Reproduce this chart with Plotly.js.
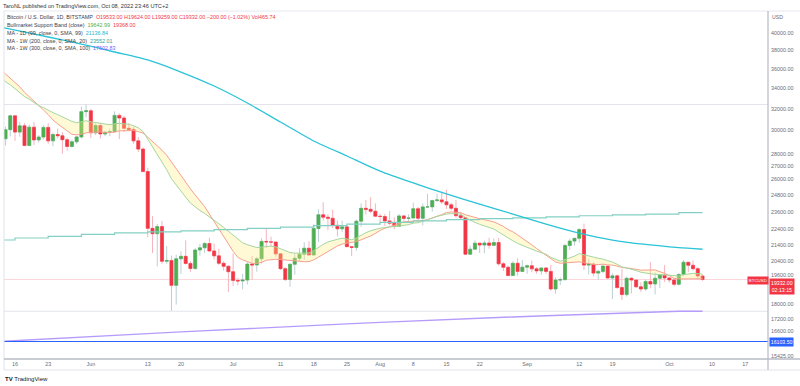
<!DOCTYPE html>
<html><head><meta charset="utf-8">
<script src="https://cdn.plot.ly/plotly-3.0.1.min.js"></script>
<style>html,body{margin:0;padding:0;background:#fff;}#chart{width:800px;height:386px;}</style>
</head><body><div id="chart"></div>
<script>
// ---------- DATA ----------
// daily bars BTC/USD Bitstamp, 2022-05-14 .. 2022-10-08
const barStart = '2022-05-14';
const open = [
 29280,30080,31330,29860,30420,28700,30300,29180,29430,30280,29100,29650,29540,29200,28620,29020,29440,31720,
 31800,29800,30450,29700,29860,29900,31370,31130,30200,30100,29100,28400,26580,22480,22130,22600,20400,20450,19000,20550,20700,20270,19970,21090,21230,21500,21030,20730,20280,20100,
 19780,19280,19250,19300,20230,20180,20550,21630,21600,21590,20850,19960,19330,20220,20580,20830,21200,20780,22470,23400,23230,23160,22680,22450,22580,21300,21250,22960,23850,23780,23640,
 23300,23280,22980,22820,22620,23320,23150,23180,23820,23160,23950,23950,24400,24450,24310,24100,23850,23340,23200,20830,21140,21520,21400,21530,21380,21560,20250,20040,19560,20280,19800,
 20050,20130,19950,19830,20000,19800,18800,19300,19320,21370,21650,21830,22400,20170,20230,19700,19800,20110,19420,19540,18880,18490,19400,19300,18920,18800,19220,19080,19400,19580,
 19420,19310,19060,19620,20340,20160,19960,19533];
const high = [
 30340,31430,31330,30750,30660,30530,30770,29600,30480,30650,29820,30180,29850,29370,29200,29560,32200,32390,
 31970,30640,30690,29950,30170,31750,31550,31330,30650,30350,29450,28550,26880,23300,22770,22980,21340,20750,20800,21000,21700,20400,21200,21480,21580,21870,21500,21180,20400,20150,
 20870,19430,19650,20350,20730,20670,21830,22500,21940,21600,20870,20050,20250,20870,21200,21580,21650,22750,23780,24280,23430,23750,23000,23000,22660,21340,23070,24200,24450,24650,24200,
 23480,23450,23650,23220,23450,23360,23430,24250,23940,24200,24900,24450,24900,25050,25200,24250,24450,23600,23200,21370,21700,21520,21680,21870,21820,21860,20350,20150,20400,20580,20480,
 20200,20440,20050,20020,20050,20180,19450,19450,21500,21800,21850,22500,22800,20550,20330,19900,20180,20130,19690,19620,19950,19500,19480,19320,19180,19320,20350,19750,19650,20170,
 19480,19400,19700,20470,20360,20450,20050,19624];
const low = [
 28700,29480,29100,29460,28650,28700,28730,28950,29240,28850,28640,29310,28020,28270,28540,28840,29300,31200,
 29350,29600,29300,29500,29500,29880,29250,29850,29950,28850,28150,26560,21900,20900,20100,20250,20250,17620,17950,19650,20200,19770,19900,20750,20900,20980,20500,20180,19850,18630,
 18970,19000,18780,19050,19300,19780,20250,21200,21330,20670,19880,19250,18920,19610,20400,20480,20760,20760,21600,23000,22350,22500,21950,22250,21260,20720,21050,22590,23420,23500,23240,
 22850,22650,22700,22430,22600,22940,22850,23150,22880,22680,23900,23620,24300,24150,23800,23700,23200,23100,20800,20800,21100,20900,20890,21170,21330,20130,19820,19540,19540,19550,19780,
 19650,19750,19660,19600,19650,18700,18540,19020,19300,21100,21360,21550,19880,19630,19520,19330,19700,19370,18250,18800,18200,18380,18550,18850,18640,18700,18840,18500,18850,19200,
 19150,18950,19000,19520,19750,19850,19330,19259];
const close = [
 30080,31330,29860,30420,28700,30300,29180,29430,30280,29100,29650,29540,29200,28620,29020,29440,31720,31800,
 29800,30450,29700,29860,29900,31370,31130,30200,30100,29100,28400,26580,22480,22130,22600,20400,20450,19000,20550,20700,20270,19970,21090,21230,21500,21030,20730,20280,20100,19780,
 19280,19250,19300,20230,20180,20550,21630,21600,21590,20850,19960,19330,20220,20580,20830,21200,20780,22470,23400,23230,23160,22680,22450,22580,21300,21250,22960,23850,23780,23640,23300,
 23280,22980,22820,22620,23320,23150,23180,23820,23160,23950,23950,24400,24450,24310,24100,23850,23340,23200,20830,21140,21520,21400,21530,21380,21560,20250,20040,19560,20280,19800,20050,
 20130,19950,19830,20000,19800,18800,19300,19320,21370,21650,21830,22400,20170,20230,19700,19800,20110,19420,19540,18880,18490,19400,19300,18920,18800,19220,19080,19400,19580,19420,
 19310,19060,19620,20340,20160,19960,19532,19332];
const volumeLast = 465.74;

// closes before the visible window (for the band indicator)
const warmupStart = '2022-03-28';
const warmupCloses = [47120,47450,47060,45530,
 46300,45810,46410,46590,45500,43200,43450,42280,42770,42160,39530,40080,41150,39940,40550,40390,39680,40800,41500,41370,
 40480,39710,39470,39450,40430,38120,39240,39740,38600,37640,
 38470,38520,37720,39690,36550,36010,35470,34060,30080,31010,29080,29050,29280];

// MA - 1D (99)
const ma99Dates = ['2022-05-13','2022-05-14','2022-05-23','2022-05-30','2022-06-06','2022-06-13','2022-06-20','2022-06-27','2022-07-04','2022-07-11','2022-07-18','2022-07-25','2022-08-01','2022-08-08','2022-08-15','2022-08-22','2022-08-29','2022-09-05','2022-09-12','2022-09-19','2022-09-26','2022-10-03','2022-10-08'];
const ma99 = [40700,40590,39530,38720,37820,36940,35650,34210,32540,30760,29090,27830,26620,25700,24880,24150,23450,22770,22170,21720,21440,21240,21136.84];

// MA - 1W (200) and MA - 1W (300), weekly values
const weekDates = ['2022-05-09','2022-05-16','2022-05-23','2022-05-30','2022-06-06','2022-06-13','2022-06-20','2022-06-27','2022-07-04','2022-07-11','2022-07-18','2022-07-25','2022-08-01','2022-08-08','2022-08-15','2022-08-22','2022-08-29','2022-09-05','2022-09-12','2022-09-19','2022-09-26','2022-10-03','2022-10-08'];
const ma200w = [21720,21850,21960,22080,22180,22250,22320,22400,22480,22560,22660,22760,22880,22980,23070,23130,23190,23260,23330,23390,23450,23552.01,23552.01];
const ma300w = [16060,16150,16235,16320,16400,16480,16565,16650,16730,16810,16885,16960,17035,17110,17180,17250,17310,17370,17430,17490,17540,17602.83,17602.83];

// horizontal levels
const levelLines = [32400, 17600];
const blueLevel = 16103.50;
const bandLegend = [19642.99, 19368.00];

// axis ticks
const xTickVals = ['2022-05-16','2022-05-23','2022-06-01','2022-06-13','2022-06-20','2022-07-01','2022-07-11','2022-07-18','2022-07-25','2022-08-01','2022-08-08','2022-08-15','2022-08-22','2022-09-01','2022-09-12','2022-09-19','2022-10-01','2022-10-10','2022-10-17'];
const xTickText = ['16','23','Jun','13','20','Jul','11','18','25','Aug','8','15','22','Sep','12','19','Oct','10','17'];
const yTickVals = [40000,38000,36000,34000,32000,30000,28000,27000,26000,24800,23600,22400,21400,20400,19600,18000,17200,16600,15425];

// ---------- BUILD ----------
function dayRange(start, n){
  const out=[]; const d=new Date(start+'T00:00:00Z');
  for(let i=0;i<n;i++){ const t=new Date(d.getTime()+i*86400000); out.push(t.toISOString().slice(0,10)); }
  return out;
}
const dates = dayRange(barStart, close.length);
const allCloses = warmupCloses.concat(close);
const allDates = dayRange(warmupStart, allCloses.length);

// Bull market support band: SMA 20 (red) & EMA 21 (green) of closes
const smaX=[], smaY=[];
for(let i=19;i<allCloses.length;i++){ let s=0; for(let k=i-19;k<=i;k++) s+=allCloses[k]; smaX.push(allDates[i]); smaY.push(s/20); }
const emaAll=[]; const a=2/22; let e=allCloses[0];
for(let i=0;i<allCloses.length;i++){ e = i===0?allCloses[0]:a*allCloses[i]+(1-a)*e; emaAll.push(e); }
const emaX=allDates.slice(19), emaY=emaAll.slice(19);

const bodyHigh = open.map((o,i)=>Math.max(o,close[i]));
const bodyLow = open.map((o,i)=>Math.min(o,close[i]));

const L=4,R=768,T=11,B=359;
const px = x => (x-L)/(R-L);
const py = y => (B-y)/(B-T);
const xRange = ['2022-05-13 16:19','2022-10-21 19:27'];

const RED='#f23645', GREEN='#4caf50';
const lastClose = close[close.length-1];

const traces = [
  {type:'scatter',mode:'lines',x:smaX,y:smaY,line:{color:'#f6a08f',width:1},hoverinfo:'skip'},
  {type:'scatter',mode:'lines',x:emaX,y:emaY,line:{color:'#a5d6a0',width:1},fill:'tonexty',fillcolor:'rgba(255,236,130,0.33)',hoverinfo:'skip'},
  {type:'scatter',mode:'lines',x:weekDates,y:ma200w,line:{color:'#84cfc4',width:1.2,shape:'hv'},hoverinfo:'skip'},
  {type:'scatter',mode:'lines',x:weekDates,y:ma300w,line:{color:'#b59cfb',width:1.4},hoverinfo:'skip'},
  {type:'scatter',mode:'lines',x:ma99Dates,y:ma99,line:{color:'#2ac3d8',width:1.3,shape:'spline',smoothing:0.6},hoverinfo:'skip'},
  {type:'candlestick',x:dates,open:open,high:high,low:low,close:close,
   increasing:{line:{color:'#bccfd5',width:1},fillcolor:'rgba(0,0,0,0)'},
   decreasing:{line:{color:'#f7b3bb',width:1},fillcolor:'rgba(0,0,0,0)'},hoverinfo:'skip'},
  {type:'candlestick',x:dates,open:open,high:bodyHigh,low:bodyLow,close:close,
   increasing:{line:{color:GREEN,width:0.5},fillcolor:GREEN},
   decreasing:{line:{color:RED,width:0.5},fillcolor:RED},hoverinfo:'skip'}
];

// horizontal levels: thin filled bands (about 1px tall) on the y scale
const half = 1.0015;
const hband = (v,c,layer)=>({type:'rect',xref:'paper',yref:'y',x0:0,x1:1,y0:v/half,y1:v*half,layer:layer||'below',fillcolor:c,line:{width:0}});
const shapes = [
  hband(levelLines[0],'#e3e5ea'),
  hband(levelLines[1],'#e3e5ea'),
  hband(lastClose,'#fcd6da'),
  hband(blueLevel,'#2962ff','above')
];
// frame
shapes.push({type:'line',xref:'paper',yref:'paper',x0:px(L),x1:px(L),y0:py(370),y1:py(T),line:{color:'#e0e3eb',width:1}});
shapes.push({type:'line',xref:'paper',yref:'paper',x0:px(L),x1:px(800),y0:py(T),y1:py(T),line:{color:'#e6e8ee',width:1}});
shapes.push({type:'line',xref:'paper',yref:'paper',x0:px(L),x1:px(800),y0:py(370),y1:py(370),line:{color:'#e0e3eb',width:1}});
shapes.push({type:'line',xref:'paper',yref:'paper',x0:px(R),x1:px(R),y0:py(370),y1:py(T),line:{color:'#b8bbc4',width:1.2}});
shapes.push({type:'line',xref:'paper',yref:'paper',x0:px(L),x1:px(800),y0:py(B),y1:py(B),line:{color:'#b8bbc4',width:1.4}});

const FONT='Liberation Sans, Arial, sans-serif';
const SP='\u00a0';
const col=(c,t)=>'<span style="color:'+c+'">'+t+'</span>';
const n = close.length-1;
const chg = close[n]-close[n-1];
const pct = chg/close[n-1]*100;
const fmt = v => (v<0?'\u2212':'')+Math.abs(v).toFixed(2);
const line1 = 'Bitcoin / U.S. Dollar, 1D, BITSTAMP'+SP+SP+
  col(RED,'O'+open[n].toFixed(2)+SP+'H'+high[n].toFixed(2)+SP+'L'+low[n].toFixed(2)+SP+'C'+close[n].toFixed(2)+SP+fmt(chg)+' ('+fmt(pct)+'%)'+SP+'Vol'+volumeLast.toFixed(2));
const line2 = 'Bullmarket Support Band (close)'+SP+SP+col(GREEN,bandLegend[0].toFixed(2))+SP+SP+col(RED,bandLegend[1].toFixed(2));
const line3 = 'MA - 1D (99, close, 0, SMA, 99)'+SP+SP+col('#22b8cc',ma99[ma99.length-1].toFixed(2));
const line4 = 'MA - 1W (200, close, 0, SMA, 20)'+SP+SP+col('#26a69a',ma200w[ma200w.length-1].toFixed(2));
const line5 = 'MA - 1W (300, close, 0, SMA, 100)'+SP+SP+col('#7c5cff',ma300w[ma300w.length-1].toFixed(2));

function ann(text,x,y,o){ return Object.assign({text:text,xref:'paper',yref:'paper',x:px(x),y:py(y),xanchor:'left',yanchor:'middle',showarrow:false,borderpad:0,font:{family:FONT,size:5.4,color:'#3d404a'}},o||{}); }
const annotations = [
  ann('TaroNL published on TradingView.com, Oct 08, 2022 23:46 UTC+2',2,6,{font:{family:FONT,size:5.6,color:'#333'}}),
  ann(line1,6,17), ann(line2,6,25), ann(line3,6,33), ann(line4,6,40.5), ann(line5,6,48),
  ann('USD',771,17,{font:{family:FONT,size:5.2,color:'#6a6d78'}}),
  ann('BTCUSD',747,280,{bgcolor:RED,borderpad:0.8,font:{family:FONT,size:4.4,color:'#fff'}}),
  ann(lastClose.toFixed(2)+'<br>02:13:15',769,277.5,{yanchor:'top',bgcolor:RED,borderpad:1,font:{family:FONT,size:5.2,color:'#fff'}}),
  ann(blueLevel.toFixed(2),769,342,{bgcolor:'#2962ff',borderpad:0.8,font:{family:FONT,size:5.2,color:'#fff'}}),
  ann('<b>TV</b>'+SP+'TradingView',4,379,{font:{family:FONT,size:6,color:'#131722'}})
];

const layout = {
  width:800,height:386,margin:{l:L,r:800-R,t:T,b:386-B},
  paper_bgcolor:'#fff',plot_bgcolor:'#fff',showlegend:false,hovermode:false,
  boxgap:0.2,boxgroupgap:0.2,
  xaxis:{type:'date',range:xRange,rangeslider:{visible:false},
    showgrid:false,zeroline:false,showline:false,ticks:'',ticklen:0,
    tickmode:'array',tickvals:xTickVals,ticktext:xTickText,
    tickfont:{family:FONT,size:5.4,color:'#6a6d78'},ticklabelstandoff:1},
  yaxis:{type:'log',side:'right',range:[4.18443,4.63025],showgrid:false,zeroline:false,showline:false,ticks:'',ticklen:0,
    tickmode:'array',tickvals:yTickVals,ticktext:yTickVals.map(v=>v.toFixed(2)),
    tickfont:{family:FONT,size:5.4,color:'#6a6d78'},ticklabelstandoff:2},
  shapes:shapes,annotations:annotations
};
Plotly.newPlot('chart',traces,layout,{staticPlot:true,displayModeBar:false});
</script></body></html>
